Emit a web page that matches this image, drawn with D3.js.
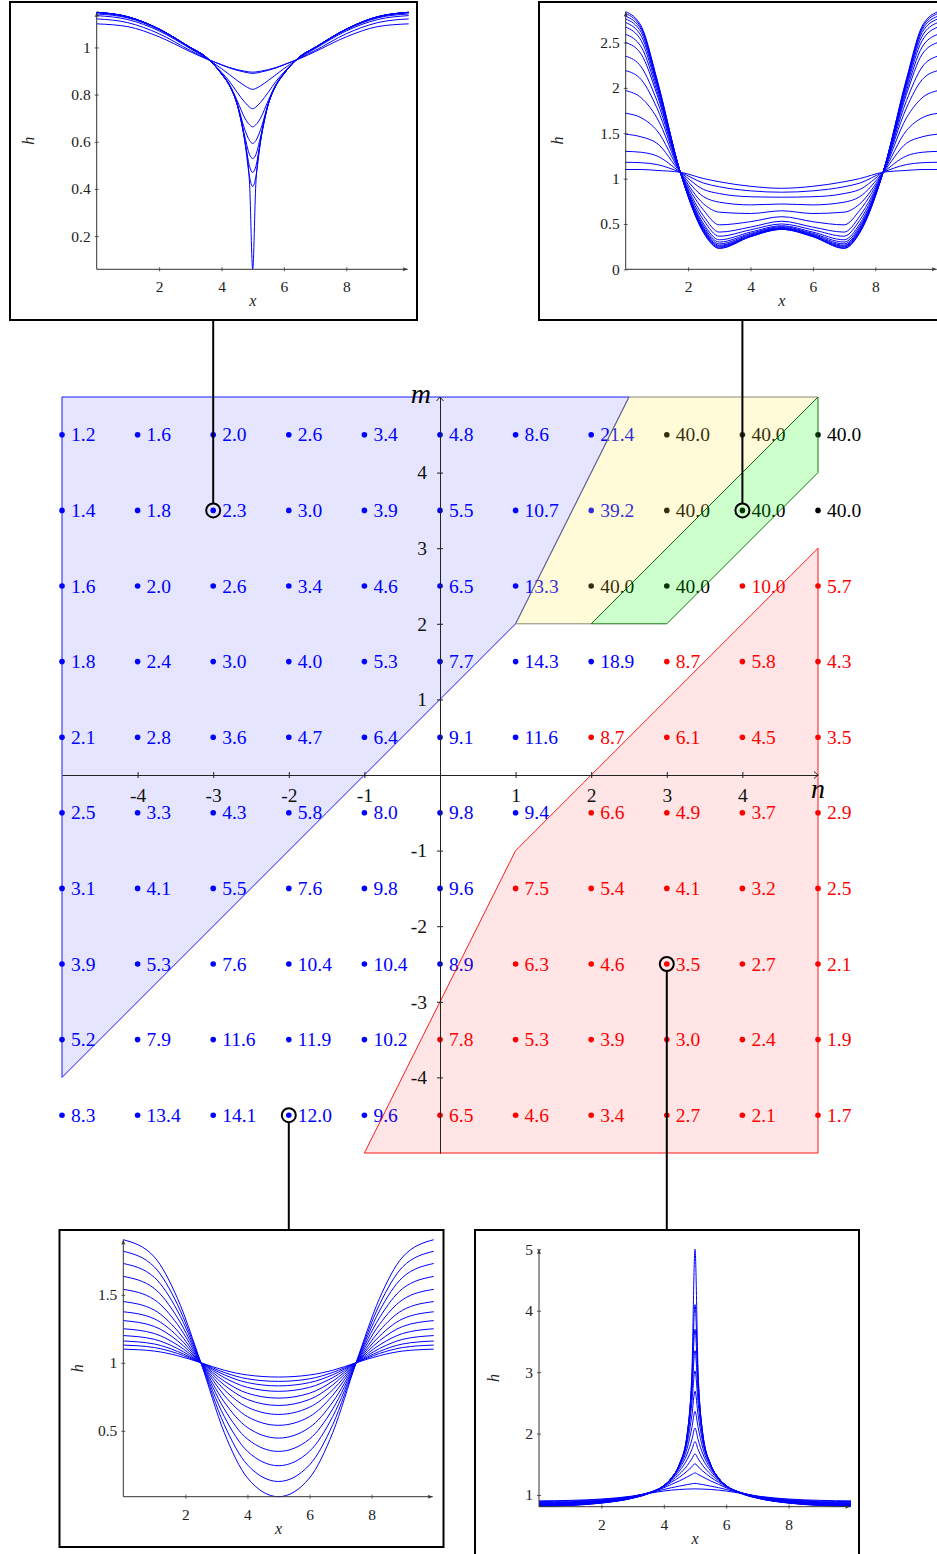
<!DOCTYPE html>
<html>
<head>
<meta charset="utf-8">
<script src="https://cdn.jsdelivr.net/npm/d3@7"></script>
<style>
  body { margin: 0; background: #fff; }
  svg { display: block; font-family: 'Liberation Serif', 'DejaVu Serif', serif; }
</style>
</head>
<body>
<div id="chart"></div>
<script>
// ---------------- grid of (n, m) points ----------------
var n_values = [-5, -4, -3, -2, -1, 0, 1, 2, 3, 4, 5];
var m_values = [4.5, 3.5, 2.5, 1.5, 0.5, -0.5, -1.5, -2.5, -3.5, -4.5];

var grid_values = [
  [1.2, 1.6, 2.0, 2.6, 3.4, 4.8, 8.6, 21.4, 40.0, 40.0, 40.0],
  [1.4, 1.8, 2.3, 3.0, 3.9, 5.5, 10.7, 39.2, 40.0, 40.0, 40.0],
  [1.6, 2.0, 2.6, 3.4, 4.6, 6.5, 13.3, 40.0, 40.0, 10.0, 5.7],
  [1.8, 2.4, 3.0, 4.0, 5.3, 7.7, 14.3, 18.9, 8.7, 5.8, 4.3],
  [2.1, 2.8, 3.6, 4.7, 6.4, 9.1, 11.6, 8.7, 6.1, 4.5, 3.5],
  [2.5, 3.3, 4.3, 5.8, 8.0, 9.8, 9.4, 6.6, 4.9, 3.7, 2.9],
  [3.1, 4.1, 5.5, 7.6, 9.8, 9.6, 7.5, 5.4, 4.1, 3.2, 2.5],
  [3.9, 5.3, 7.6, 10.4, 10.4, 8.9, 6.3, 4.6, 3.5, 2.7, 2.1],
  [5.2, 7.9, 11.6, 11.9, 10.2, 7.8, 5.3, 3.9, 3.0, 2.4, 1.9],
  [8.3, 13.4, 14.1, 12.0, 9.6, 6.5, 4.6, 3.4, 2.7, 2.1, 1.7]
];

// B = blue regime, R = red regime, K = black (saturated)
var grid_kind = [
  'BBBBBBBBKKK',
  'BBBBBBBBKKK',
  'BBBBBBBKKRR',
  'BBBBBBBBRRR',
  'BBBBBBBRRRR',
  'BBBBBBBRRRR',
  'BBBBBBRRRRR',
  'BBBBBBRRRRR',
  'BBBBBRRRRRR',
  'BBBBBRRRRRR'
];

var axis_ticks = [-4, -3, -2, -1, 1, 2, 3, 4];

// shaded regions, vertices in (n, m)
var region_blue = [[-5, 5], [2.5, 5], [1, 2], [-5, -4]];
var region_yellow = [[2.5, 5], [5, 5], [2, 2], [1, 2]];
var region_green = [[5, 5], [5, 4], [3, 2], [2, 2]];
var region_red = [[1, -1], [5, 3], [5, -5], [-1, -5]];

// points that have a profile inset: top-left, top-right, bottom-left, bottom-right
var picked = [[-3, 3.5], [4, 3.5], [-2, -4.5], [3, -2.5]];

// ---------------- inset profiles h(x) ----------------
var tl_x = [0, 1, 2, 3, 3.5, 4, 4.25, 4.5, 4.75, 4.9, 5, 5.1, 5.25, 5.5, 5.75, 6, 6.5, 7, 8, 9, 10];
var tl_h = [
  [1.10, 1.088, 1.045, 0.982, 0.952, 0.927, 0.915, 0.906, 0.899, 0.896, 0.895, 0.896, 0.899, 0.906, 0.915, 0.927, 0.952, 0.982, 1.045, 1.088, 1.10],
  [1.121, 1.105, 1.058, 0.987, 0.954, 0.926, 0.913, 0.903, 0.895, 0.891, 0.89, 0.891, 0.895, 0.903, 0.913, 0.926, 0.954, 0.987, 1.058, 1.105, 1.121],
  [1.135, 1.118, 1.07, 0.995, 0.955, 0.91, 0.885, 0.86, 0.837, 0.826, 0.822, 0.826, 0.837, 0.86, 0.885, 0.91, 0.955, 0.995, 1.07, 1.118, 1.135],
  [1.142, 1.125, 1.075, 0.998, 0.958, 0.895, 0.857, 0.81, 0.767, 0.747, 0.74, 0.747, 0.767, 0.81, 0.857, 0.895, 0.958, 0.998, 1.075, 1.125, 1.142],
  [1.147, 1.128, 1.077, 0.999, 0.958, 0.89, 0.845, 0.775, 0.70, 0.672, 0.663, 0.672, 0.70, 0.775, 0.845, 0.89, 0.958, 0.999, 1.077, 1.128, 1.147],
  [1.149, 1.13, 1.078, 1.0, 0.96, 0.888, 0.84, 0.762, 0.65, 0.605, 0.593, 0.605, 0.65, 0.762, 0.84, 0.888, 0.96, 1.0, 1.078, 1.13, 1.149],
  [1.149, 1.13, 1.078, 1.0, 0.96, 0.888, 0.84, 0.76, 0.62, 0.545, 0.529, 0.545, 0.62, 0.76, 0.84, 0.888, 0.96, 1.0, 1.078, 1.13, 1.149],
  [1.149, 1.13, 1.078, 1.0, 0.96, 0.888, 0.84, 0.76, 0.605, 0.495, 0.47, 0.495, 0.605, 0.76, 0.84, 0.888, 0.96, 1.0, 1.078, 1.13, 1.149],
  [1.149, 1.13, 1.078, 1.0, 0.96, 0.888, 0.84, 0.76, 0.60, 0.45, 0.41, 0.45, 0.60, 0.76, 0.84, 0.888, 0.96, 1.0, 1.078, 1.13, 1.149],
  [1.149, 1.13, 1.078, 1.0, 0.96, 0.888, 0.84, 0.76, 0.60, 0.42, 0.06, 0.42, 0.60, 0.76, 0.84, 0.888, 0.96, 1.0, 1.078, 1.13, 1.149]
];

var tr_x = [0, 0.5, 1, 1.75, 2.5, 3, 4, 5, 6, 7, 7.5, 8.25, 9, 9.5, 10];
var tr_h = [
  [2.84, 2.68, 2.10, 1.07, 0.40, 0.23, 0.36, 0.44, 0.36, 0.23, 0.40, 1.07, 2.10, 2.68, 2.84],
  [2.82, 2.66, 2.09, 1.07, 0.41, 0.235, 0.36, 0.44, 0.36, 0.235, 0.41, 1.07, 2.09, 2.66, 2.82],
  [2.79, 2.64, 2.07, 1.07, 0.42, 0.245, 0.365, 0.445, 0.365, 0.245, 0.42, 1.07, 2.07, 2.64, 2.79],
  [2.76, 2.61, 2.06, 1.07, 0.43, 0.255, 0.37, 0.45, 0.37, 0.255, 0.43, 1.07, 2.06, 2.61, 2.76],
  [2.72, 2.57, 2.04, 1.07, 0.44, 0.265, 0.375, 0.455, 0.375, 0.265, 0.44, 1.07, 2.04, 2.57, 2.72],
  [2.67, 2.52, 2.01, 1.07, 0.455, 0.28, 0.385, 0.46, 0.385, 0.28, 0.455, 1.07, 2.01, 2.52, 2.67],
  [2.59, 2.45, 1.97, 1.07, 0.475, 0.30, 0.395, 0.47, 0.395, 0.30, 0.475, 1.07, 1.97, 2.45, 2.59],
  [2.50, 2.37, 1.93, 1.07, 0.50, 0.325, 0.41, 0.48, 0.41, 0.325, 0.50, 1.07, 1.93, 2.37, 2.50],
  [2.35, 2.23, 1.86, 1.07, 0.54, 0.365, 0.435, 0.50, 0.435, 0.365, 0.54, 1.07, 1.86, 2.23, 2.35],
  [2.19, 2.09, 1.78, 1.07, 0.585, 0.41, 0.465, 0.53, 0.465, 0.41, 0.585, 1.07, 1.78, 2.09, 2.19],
  [1.97, 1.89, 1.67, 1.07, 0.65, 0.49, 0.525, 0.58, 0.525, 0.49, 0.65, 1.07, 1.67, 1.89, 1.97],
  [1.72, 1.67, 1.53, 1.07, 0.72, 0.63, 0.615, 0.645, 0.615, 0.63, 0.72, 1.07, 1.53, 1.67, 1.72],
  [1.49, 1.46, 1.39, 1.07, 0.80, 0.74, 0.71, 0.72, 0.71, 0.74, 0.80, 1.07, 1.39, 1.46, 1.49],
  [1.30, 1.29, 1.25, 1.07, 0.88, 0.835, 0.80, 0.795, 0.80, 0.835, 0.88, 1.07, 1.25, 1.29, 1.30],
  [1.18, 1.175, 1.155, 1.07, 0.95, 0.91, 0.865, 0.85, 0.865, 0.91, 0.95, 1.07, 1.155, 1.175, 1.18],
  [1.10, 1.10, 1.09, 1.07, 1.0, 0.965, 0.915, 0.893, 0.915, 0.965, 1.0, 1.07, 1.09, 1.10, 1.10]
];

var bl_x = [0, 1, 1.75, 2.5, 3.25, 4, 5, 6, 6.75, 7.5, 8.25, 9, 10];
var bl_h = [
  [1.905, 1.778, 1.471, 1.0, 0.488, 0.153, 0.015, 0.153, 0.488, 1.0, 1.471, 1.778, 1.905],
  [1.82, 1.705, 1.426, 1.0, 0.546, 0.249, 0.127, 0.249, 0.546, 1.0, 1.426, 1.705, 1.82],
  [1.73, 1.628, 1.38, 1.0, 0.606, 0.349, 0.243, 0.349, 0.606, 1.0, 1.38, 1.628, 1.73],
  [1.635, 1.546, 1.33, 1.0, 0.661, 0.439, 0.348, 0.439, 0.661, 1.0, 1.33, 1.546, 1.635],
  [1.54, 1.464, 1.281, 1.0, 0.712, 0.524, 0.446, 0.524, 0.712, 1.0, 1.281, 1.464, 1.54],
  [1.45, 1.387, 1.234, 1.0, 0.761, 0.604, 0.54, 0.604, 0.761, 1.0, 1.234, 1.387, 1.45],
  [1.375, 1.323, 1.195, 1.0, 0.802, 0.673, 0.62, 0.673, 0.802, 1.0, 1.195, 1.323, 1.375],
  [1.31, 1.267, 1.161, 1.0, 0.837, 0.73, 0.686, 0.73, 0.837, 1.0, 1.161, 1.267, 1.31],
  [1.25, 1.215, 1.13, 1.0, 0.865, 0.776, 0.74, 0.776, 0.865, 1.0, 1.13, 1.215, 1.25],
  [1.20, 1.172, 1.104, 1.0, 0.891, 0.819, 0.79, 0.819, 0.891, 1.0, 1.104, 1.172, 1.20],
  [1.16, 1.138, 1.083, 1.0, 0.912, 0.854, 0.83, 0.854, 0.912, 1.0, 1.083, 1.138, 1.16],
  [1.13, 1.112, 1.068, 1.0, 0.929, 0.882, 0.863, 0.882, 0.929, 1.0, 1.068, 1.112, 1.13],
  [1.10, 1.086, 1.052, 1.0, 0.945, 0.91, 0.895, 0.91, 0.945, 1.0, 1.052, 1.086, 1.10]
];

var br_x = [0, 1, 2, 3, 3.5, 4, 4.25, 4.5, 4.75, 4.9, 5, 5.1, 5.25, 5.5, 5.75, 6, 6.5, 7, 8, 9, 10];
var br_h = [
  [0.815, 0.83, 0.868, 0.948, 1.02, 1.15, 1.28, 1.5, 2.0, 3.0, 5.0, 3.0, 2.0, 1.5, 1.28, 1.15, 1.02, 0.948, 0.868, 0.83, 0.815],
  [0.818, 0.833, 0.871, 0.95, 1.022, 1.15, 1.28, 1.5, 1.99, 2.9, 4.1, 2.9, 1.99, 1.5, 1.28, 1.15, 1.022, 0.95, 0.871, 0.833, 0.818],
  [0.821, 0.836, 0.873, 0.952, 1.024, 1.151, 1.28, 1.498, 1.975, 2.8, 3.7, 2.8, 1.975, 1.498, 1.28, 1.151, 1.024, 0.952, 0.873, 0.836, 0.821],
  [0.825, 0.84, 0.876, 0.954, 1.025, 1.152, 1.279, 1.495, 1.95, 2.65, 3.35, 2.65, 1.95, 1.495, 1.279, 1.152, 1.025, 0.954, 0.876, 0.84, 0.825],
  [0.83, 0.844, 0.879, 0.956, 1.027, 1.152, 1.278, 1.49, 1.91, 2.5, 3.02, 2.5, 1.91, 1.49, 1.278, 1.152, 1.027, 0.956, 0.879, 0.844, 0.83],
  [0.836, 0.849, 0.883, 0.959, 1.029, 1.153, 1.276, 1.48, 1.85, 2.3, 2.69, 2.3, 1.85, 1.48, 1.276, 1.153, 1.029, 0.959, 0.883, 0.849, 0.836],
  [0.842, 0.855, 0.888, 0.962, 1.031, 1.153, 1.272, 1.46, 1.76, 2.1, 2.36, 2.1, 1.76, 1.46, 1.272, 1.153, 1.031, 0.962, 0.888, 0.855, 0.842],
  [0.849, 0.861, 0.893, 0.965, 1.033, 1.152, 1.265, 1.43, 1.67, 1.9, 2.09, 1.9, 1.67, 1.43, 1.265, 1.152, 1.033, 0.965, 0.893, 0.861, 0.849],
  [0.856, 0.868, 0.898, 0.968, 1.034, 1.149, 1.253, 1.39, 1.58, 1.74, 1.87, 1.74, 1.58, 1.39, 1.253, 1.149, 1.034, 0.968, 0.898, 0.868, 0.856],
  [0.864, 0.875, 0.904, 0.971, 1.035, 1.143, 1.235, 1.34, 1.48, 1.59, 1.67, 1.59, 1.48, 1.34, 1.235, 1.143, 1.035, 0.971, 0.904, 0.875, 0.864],
  [0.872, 0.883, 0.91, 0.974, 1.035, 1.133, 1.21, 1.29, 1.39, 1.46, 1.51, 1.46, 1.39, 1.29, 1.21, 1.133, 1.035, 0.974, 0.91, 0.883, 0.872],
  [0.881, 0.891, 0.917, 0.977, 1.034, 1.117, 1.175, 1.23, 1.295, 1.335, 1.36, 1.335, 1.295, 1.23, 1.175, 1.117, 1.034, 0.977, 0.917, 0.891, 0.881],
  [0.893, 0.902, 0.926, 0.98, 1.03, 1.09, 1.12, 1.145, 1.17, 1.183, 1.19, 1.183, 1.17, 1.145, 1.12, 1.09, 1.03, 0.98, 0.926, 0.902, 0.893],
  [0.905, 0.913, 0.935, 0.983, 1.025, 1.065, 1.08, 1.09, 1.097, 1.099, 1.10, 1.099, 1.097, 1.09, 1.08, 1.065, 1.025, 0.983, 0.935, 0.913, 0.905]
];

var tl_ticks = [0.2, 0.4, 0.6, 0.8, 1];
var tr_ticks = [0, 0.5, 1, 1.5, 2, 2.5];
var bl_ticks = [0.5, 1, 1.5];
var br_ticks = [1, 2, 3, 4, 5];
var x_ticks = [2, 4, 6, 8];

// ---------------- layout ----------------
var chart_width = 937;
var chart_height = 1554;
var label_size = 19.5;
var kind_color = { B: '#0000ff', R: '#ff0000', K: '#000000' };

var svg = d3.select('#chart')
  .append('svg')
  .attr('width', chart_width)
  .attr('height', chart_height);

var n_scale = d3.scaleLinear().domain([-5, 5]).range([62, 818]);
var m_scale = d3.scaleLinear().domain([-5, 5]).range([1153, 397]);

var points = [];
m_values.forEach(function(m, i) {
  n_values.forEach(function(n, j) {
    points.push({ n: n, m: m, v: grid_values[i][j], k: grid_kind[i][j] });
  });
});

// points + value labels
var pts = svg.append('g').attr('class', 'points');
pts.selectAll('circle')
  .data(points)
  .enter()
  .append('circle')
  .attr('cx', function(d) { return n_scale(d.n); })
  .attr('cy', function(d) { return m_scale(d.m); })
  .attr('r', 2.8)
  .attr('fill', function(d) { return kind_color[d.k]; });

pts.selectAll('text')
  .data(points)
  .enter()
  .append('text')
  .attr('x', function(d) { return n_scale(d.n) + 9; })
  .attr('y', function(d) { return m_scale(d.m) + 6.5; })
  .attr('font-size', label_size)
  .attr('fill', function(d) { return kind_color[d.k]; })
  .text(function(d) { return d3.format('.1f')(d.v); });

// regions (drawn over the labels, translucent like the original)
function region_path(vertices) {
  return d3.line()
    .x(function(d) { return n_scale(d[0]); })
    .y(function(d) { return m_scale(d[1]); })(vertices) + 'Z';
}
var regions = svg.append('g').attr('class', 'regions');
regions.append('path').attr('d', region_path(region_blue))
  .attr('fill', '#0000ff').attr('fill-opacity', 0.1)
  .attr('stroke', '#0000ff').attr('stroke-width', 0.9);
regions.append('path').attr('d', region_path(region_yellow))
  .attr('fill', '#ffe63c').attr('fill-opacity', 0.2)
  .attr('stroke', '#7a7a6a').attr('stroke-width', 0.9);
regions.append('path').attr('d', region_path(region_green))
  .attr('fill', '#00ff00').attr('fill-opacity', 0.2)
  .attr('stroke', '#006400').attr('stroke-width', 0.9);
regions.append('path').attr('d', region_path(region_red))
  .attr('fill', '#ff0000').attr('fill-opacity', 0.1)
  .attr('stroke', '#ff0000').attr('stroke-width', 0.9);

// main axes
var x_axis = d3.axisBottom(n_scale)
  .tickValues(axis_ticks)
  .tickSize(3)
  .tickPadding(10)
  .tickSizeOuter(0)
  .tickFormat(function(d) { return String(d); });
var gx = svg.append('g')
  .attr('class', 'x-axis')
  .attr('transform', 'translate(0,' + m_scale(0) + ')')
  .call(x_axis);

var y_axis = d3.axisLeft(m_scale)
  .tickValues(axis_ticks)
  .tickSize(3)
  .tickPadding(10)
  .tickSizeOuter(0)
  .tickFormat(function(d) { return String(d); });
var gy = svg.append('g')
  .attr('class', 'y-axis')
  .attr('transform', 'translate(' + n_scale(0) + ',0)')
  .call(y_axis);

[gx, gy].forEach(function(g) {
  g.attr('font-family', null).attr('font-size', null);
  g.select('.domain').attr('stroke', '#222').attr('stroke-width', 1);
  g.selectAll('.tick line').attr('stroke', '#222');
  g.selectAll('.tick text').attr('font-size', label_size).attr('fill', '#111');
});
gx.selectAll('.tick line').attr('y1', -3);
gy.selectAll('.tick line').attr('x1', 3);

// open arrow tips
var ax_end = n_scale(5), ay = m_scale(0);
svg.append('path')
  .attr('d', 'M' + (ax_end - 4) + ',' + (ay - 3.5) + 'L' + ax_end + ',' + ay + 'L' + (ax_end - 4) + ',' + (ay + 3.5))
  .attr('fill', 'none').attr('stroke', '#222').attr('stroke-width', 1);
var ay_end = m_scale(5), ax0 = n_scale(0);
svg.append('path')
  .attr('d', 'M' + (ax0 - 3.5) + ',' + (ay_end + 4) + 'L' + ax0 + ',' + ay_end + 'L' + (ax0 + 3.5) + ',' + (ay_end + 4))
  .attr('fill', 'none').attr('stroke', '#222').attr('stroke-width', 1);

svg.append('text')
  .attr('x', n_scale(0) - 9).attr('y', m_scale(5) + 6)
  .attr('text-anchor', 'end')
  .attr('font-style', 'italic').attr('font-size', 28)
  .text('m');
svg.append('text')
  .attr('x', n_scale(5)).attr('y', m_scale(0) + 23)
  .attr('text-anchor', 'middle')
  .attr('font-style', 'italic').attr('font-size', 28)
  .text('n');

// ---------------- insets ----------------
var insets = [
  { xs: tl_x, curves: tl_h, ticks: tl_ticks, y_domain: [0.059, 1.149],
    box: [10, 2, 407, 318], left: 96.7, right: 408.7, top: 12.3, bottom: 269.3, h_x: 30 },
  { xs: tr_x, curves: tr_h, ticks: tr_ticks, y_domain: [0, 2.84],
    box: [539, 2, 407, 318], left: 625.7, right: 937.7, top: 11.7, bottom: 269.3, h_x: 559 },
  { xs: bl_x, curves: bl_h, ticks: bl_ticks, y_domain: [0.015, 1.905],
    box: [59.5, 1230, 384, 317], left: 123.3, right: 433.7, top: 1239.7, bottom: 1496.7, h_x: 79 },
  { xs: br_x, curves: br_h, ticks: br_ticks, y_domain: [0.81, 5],
    box: [475, 1230, 384, 330], left: 539, right: 851, top: 1249.3, bottom: 1506.7, h_x: 495 }
];

// connectors and rings on the picked points
insets.forEach(function(inset, i) {
  var px = n_scale(picked[i][0]), py = m_scale(picked[i][1]);
  var box_edge = i < 2 ? inset.box[1] + inset.box[3] : inset.box[1];
  var ring_edge = i < 2 ? py - 7 : py + 7;
  svg.append('line')
    .attr('x1', px).attr('x2', px)
    .attr('y1', box_edge).attr('y2', ring_edge)
    .attr('stroke', '#000').attr('stroke-width', 2);
  svg.append('circle')
    .attr('cx', px).attr('cy', py).attr('r', 7)
    .attr('fill', 'none').attr('stroke', '#000').attr('stroke-width', 2);
});

insets.forEach(function(inset) {
  var g = svg.append('g').attr('class', 'inset');
  g.append('rect')
    .attr('x', inset.box[0]).attr('y', inset.box[1])
    .attr('width', inset.box[2]).attr('height', inset.box[3])
    .attr('fill', '#fff').attr('stroke', '#000').attr('stroke-width', 2);

  var x = d3.scaleLinear().domain([0, 10]).range([inset.left, inset.right]);
  var y = d3.scaleLinear().domain(inset.y_domain).range([inset.bottom, inset.top]);

  var line = d3.line()
    .x(function(d, i) { return x(inset.xs[i]); })
    .y(function(d) { return y(d); })
    .curve(d3.curveMonotoneX);

  g.append('g')
    .selectAll('path')
    .data(inset.curves)
    .enter()
    .append('path')
    .attr('d', line)
    .attr('fill', 'none')
    .attr('stroke', '#0000ff')
    .attr('stroke-width', 1);

  var ax = g.append('g')
    .attr('transform', 'translate(0,' + inset.bottom + ')')
    .call(d3.axisBottom(x).tickValues(x_ticks).tickSize(2).tickPadding(10).tickFormat(String));
  var ayg = g.append('g')
    .attr('transform', 'translate(' + inset.left + ',0)')
    .call(d3.axisLeft(y).tickValues(inset.ticks).tickSize(2).tickPadding(4).tickFormat(String));

  [ax, ayg].forEach(function(a) {
    a.attr('font-family', null).attr('font-size', null);
    a.select('.domain').remove();
    a.selectAll('.tick line').attr('stroke', '#333').attr('stroke-width', 0.8);
    a.selectAll('.tick text').attr('font-size', 15.5).attr('fill', '#222');
  });
  ax.selectAll('.tick line').attr('y1', -2);
  ayg.selectAll('.tick line').attr('x1', 2);

  // axis lines with small arrow heads
  var x_end = inset.right - 1;
  g.append('line')
    .attr('x1', inset.left).attr('x2', x_end)
    .attr('y1', inset.bottom).attr('y2', inset.bottom)
    .attr('stroke', '#333').attr('stroke-width', 1);
  g.append('path')
    .attr('d', 'M' + x_end + ',' + inset.bottom + 'l-5,-2l1,2l-1,2z')
    .attr('fill', '#333');
  g.append('line')
    .attr('x1', inset.left).attr('x2', inset.left)
    .attr('y1', inset.bottom).attr('y2', inset.top)
    .attr('stroke', '#333').attr('stroke-width', 1);
  g.append('path')
    .attr('d', 'M' + inset.left + ',' + inset.top + 'l-2,5l2,-1l2,1z')
    .attr('fill', '#333');

  g.append('text')
    .attr('x', (inset.left + inset.right) / 2)
    .attr('y', inset.bottom + 37)
    .attr('text-anchor', 'middle')
    .attr('font-style', 'italic').attr('font-size', 16).attr('fill', '#222')
    .text('x');
  g.append('text')
    .attr('transform', 'translate(' + (inset.h_x + 4) + ',' + ((inset.top + inset.bottom) / 2) + ') rotate(-90)')
    .attr('text-anchor', 'middle')
    .attr('font-style', 'italic').attr('font-size', 16).attr('fill', '#222')
    .text('h');
});
</script>
</body>
</html>
